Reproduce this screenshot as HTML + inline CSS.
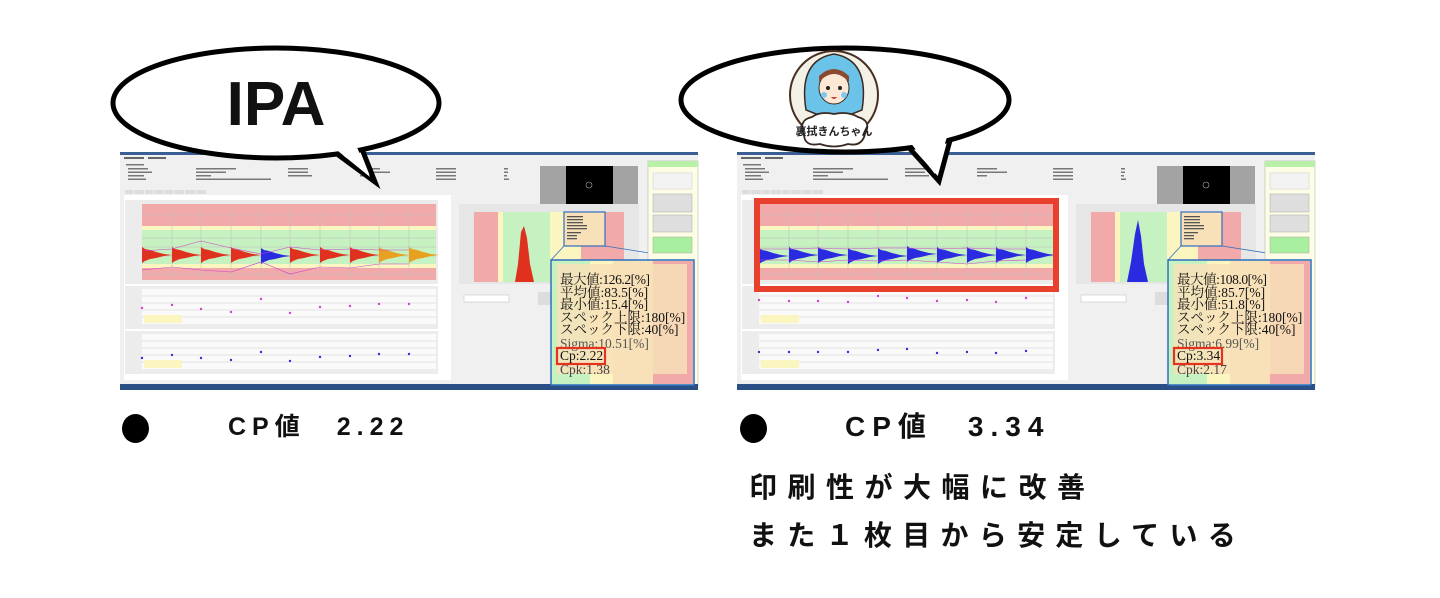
<!DOCTYPE html>
<html><head><meta charset="utf-8"><style>
html,body{margin:0;padding:0;background:#fff;}
body{width:1440px;height:598px;position:relative;overflow:hidden;font-family:"Liberation Sans","Noto Sans CJK JP",sans-serif;}
.t{position:absolute;font-weight:bold;color:#111;white-space:nowrap;}
.dot{position:absolute;width:27px;height:29px;border-radius:50%;background:#000;}
</style></head><body>
<svg width="1440" height="598" viewBox="0 0 1440 598" style="position:absolute;left:0;top:0">
<defs>
<symbol id="w" overflow="visible"><path d="M0,-8 L3,-6 L8,-5 L14,-3 L22,-1 L30,0 L22,1 L14,3 L8,4 L3,6 L0,8 Z"/></symbol>
<g id="base">
 <rect width="578" height="238" fill="#f0f0f0"/>
 <rect width="578" height="3" fill="#3b5f95"/>
 <rect x="4" y="5" width="20" height="2" fill="#666"/><rect x="28" y="5" width="18" height="2" fill="#666"/>
 <g fill="#777">
  <rect x="6" y="12" width="18" height="1.5"/>
  <rect x="8" y="16" width="20" height="1.5"/><rect x="8" y="19.5" width="24" height="1.5"/><rect x="8" y="23" width="16" height="1.5"/><rect x="8" y="26.5" width="18" height="1.5"/>
  <rect x="76" y="16" width="40" height="1.5"/><rect x="76" y="19.5" width="30" height="1.5"/><rect x="76" y="23" width="15" height="1.5"/><rect x="76" y="26.5" width="75" height="1.5"/>
  <rect x="168" y="16" width="20" height="1.5"/><rect x="168" y="19.5" width="20" height="1.5"/><rect x="168" y="23" width="24" height="1.5"/>
  <rect x="240" y="16" width="20" height="1.5"/><rect x="240" y="19.5" width="30" height="1.5"/><rect x="240" y="23" width="10" height="1.5"/>
  <rect x="316" y="16" width="20" height="1.5"/><rect x="316" y="19.5" width="20" height="1.5"/><rect x="316" y="23" width="20" height="1.5"/><rect x="316" y="26.5" width="20" height="1.5"/>
  <rect x="384" y="16" width="4" height="1.5"/><rect x="384" y="19.5" width="4" height="1.5"/><rect x="384" y="23" width="3" height="1.5"/><rect x="384" y="26.5" width="5" height="1.5"/>
 </g>
 <rect x="420" y="14" width="98" height="40" fill="#a3a3a3"/>
 <rect x="446" y="14" width="47" height="40" fill="#000"/>
 <circle cx="469" cy="33" r="3" fill="none" stroke="#aaa" stroke-width=".6"/>
 <g fill="#ddd"><rect x="5" y="38" width="8" height="4"/><rect x="14" y="38" width="10" height="4"/><rect x="25" y="38" width="8" height="4"/><rect x="34" y="38" width="10" height="4"/><rect x="45" y="38" width="8" height="4"/><rect x="54" y="38" width="10" height="4"/><rect x="65" y="38" width="10" height="4"/><rect x="76" y="38" width="10" height="4"/></g>
 <rect x="4" y="43" width="327" height="185" fill="#fff"/>
 <rect x="5" y="48" width="313" height="84" fill="#ececec"/>
 <rect x="22" y="52" width="294" height="22" fill="#f2a9a9"/>
 <rect x="22" y="74" width="294" height="4" fill="#fbf6c0"/>
 <rect x="22" y="78" width="294" height="34" fill="#c6f1c0"/>
 <rect x="22" y="112" width="294" height="4" fill="#fbf6c0"/>
 <rect x="22" y="116" width="294" height="12" fill="#f2a9a9"/>
 <g stroke="#bbb" stroke-width=".5"><line x1="22" y1="63" x2="316" y2="63"/><line x1="22" y1="86" x2="316" y2="86"/><line x1="22" y1="95" x2="316" y2="95"/><line x1="22" y1="104" x2="316" y2="104"/><line x1="22" y1="122" x2="316" y2="122"/>
 <line x1="52" y1="53" x2="52" y2="128"/><line x1="81" y1="53" x2="81" y2="128"/><line x1="111" y1="53" x2="111" y2="128"/><line x1="141" y1="53" x2="141" y2="128"/><line x1="170" y1="53" x2="170" y2="128"/><line x1="200" y1="53" x2="200" y2="128"/><line x1="230" y1="53" x2="230" y2="128"/><line x1="259" y1="53" x2="259" y2="128"/><line x1="289" y1="53" x2="289" y2="128"/></g>
 <rect x="5" y="134" width="313" height="43" fill="#ececec"/><rect x="22" y="137" width="294" height="35" fill="#fafafa"/>
 <rect x="5" y="179" width="313" height="43" fill="#ececec"/><rect x="22" y="182" width="294" height="35" fill="#fafafa"/>
 <g stroke="#ccc" stroke-width=".5"><line x1="22" y1="144" x2="316" y2="144"/><line x1="22" y1="151" x2="316" y2="151"/><line x1="22" y1="158" x2="316" y2="158"/><line x1="22" y1="165" x2="316" y2="165"/>
 <line x1="22" y1="189" x2="316" y2="189"/><line x1="22" y1="196" x2="316" y2="196"/><line x1="22" y1="203" x2="316" y2="203"/><line x1="22" y1="210" x2="316" y2="210"/></g>
 <rect x="24" y="163" width="38" height="8" fill="#fbf6c0"/><rect x="24" y="208" width="38" height="8" fill="#fbf6c0"/>
 <rect x="339" y="52" width="180" height="80" fill="#e6e6e6"/>
 <rect x="354" y="60" width="24" height="70" fill="#f2a9a9"/><rect x="378" y="60" width="5" height="70" fill="#fbf6c0"/><rect x="383" y="60" width="47" height="70" fill="#c6f1c0"/><rect x="430" y="60" width="31" height="70" fill="#fbf6c0"/><rect x="461" y="60" width="43" height="70" fill="#f2a9a9"/>
 <rect x="444" y="60" width="41" height="34" fill="#f8e0b8" stroke="#2f6fc0" stroke-width="1.2"/>
 <g fill="#555"><rect x="447" y="64" width="16" height="1.3"/><rect x="447" y="67" width="16" height="1.3"/><rect x="447" y="70" width="16" height="1.3"/><rect x="447" y="73" width="20" height="1.3"/><rect x="447" y="76" width="20" height="1.3"/><rect x="447" y="80" width="14" height="1.3"/><rect x="447" y="83" width="10" height="1.3"/><rect x="447" y="86" width="10" height="1.3"/></g>
 <line x1="444" y1="94" x2="431" y2="108" stroke="#2f6fc0" stroke-width=".8"/><line x1="485" y1="94" x2="574" y2="108" stroke="#2f6fc0" stroke-width=".8"/>
 <rect x="344" y="143" width="45" height="7" fill="#fff" stroke="#bbb" stroke-width=".5"/>
 <rect x="418" y="140" width="26" height="13" fill="#ddd"/>
 <rect x="528" y="9" width="50" height="226" fill="#fdfde6" stroke="#aaa" stroke-width=".5"/>
 <rect x="528" y="9" width="50" height="6" fill="#b8f0a8"/>
 <rect x="533" y="21" width="39" height="16" fill="#f3f3f3" stroke="#ccc" stroke-width=".5"/>
 <rect x="533" y="42" width="39" height="18" fill="#dedede" stroke="#aaa" stroke-width=".5"/>
 <rect x="533" y="63" width="39" height="17" fill="#dedede" stroke="#aaa" stroke-width=".5"/>
 <rect x="533" y="85" width="39" height="16" fill="#a8f0a0" stroke="#aaa" stroke-width=".5"/>
 <rect x="0" y="232" width="578" height="6" fill="#2a4f86"/>
 <rect x="431" y="108" width="143" height="125" fill="#c6f1c0" stroke="#2f6fc0" stroke-width="1.5"/>
 <rect x="470" y="109" width="23" height="123" fill="#fbf6c0"/>
 <rect x="493" y="109" width="40" height="123" fill="#f8e0b8"/>
 <rect x="533" y="109" width="40" height="123" fill="#f2a9a9"/>
 <rect x="437" y="112" width="130" height="110" fill="#f8e0b8" opacity=".85"/>
</g>
</defs>

<g transform="translate(120,152)">
 <use href="#base"/>
 <g fill="#e0301e"><use href="#w" x="22" y="103"/><use href="#w" x="52" y="103"/><use href="#w" x="81" y="103"/><use href="#w" x="111" y="103"/><use href="#w" x="170" y="103"/><use href="#w" x="200" y="103"/><use href="#w" x="230" y="103"/></g>
 <use href="#w" x="141" y="104" fill="#2a2ae0"/>
 <g fill="#e8a020"><use href="#w" x="259" y="103"/><use href="#w" x="289" y="103"/></g>
 <polyline points="22,99 52,97 81,89 111,96 141,102 170,95 200,98 230,97 259,98 289,98" fill="none" stroke="#d040d0" stroke-width=".6"/>
 <polyline points="22,118 52,115 81,118 111,120 141,110 170,122 200,115 230,116 259,112 289,112" fill="none" stroke="#d040d0" stroke-width=".6"/>
 <g fill="#d040d0"><circle cx="22" cy="156" r="1.2"/><circle cx="52" cy="153" r="1.2"/><circle cx="81" cy="157" r="1.2"/><circle cx="111" cy="160" r="1.2"/><circle cx="141" cy="147" r="1.2"/><circle cx="170" cy="161" r="1.2"/><circle cx="200" cy="155" r="1.2"/><circle cx="230" cy="154" r="1.2"/><circle cx="259" cy="152" r="1.2"/><circle cx="289" cy="152" r="1.2"/></g>
 <g fill="#3030e0"><circle cx="22" cy="206" r="1.2"/><circle cx="52" cy="203" r="1.2"/><circle cx="81" cy="206" r="1.2"/><circle cx="111" cy="208" r="1.2"/><circle cx="141" cy="200" r="1.2"/><circle cx="170" cy="209" r="1.2"/><circle cx="200" cy="205" r="1.2"/><circle cx="230" cy="204" r="1.2"/><circle cx="259" cy="202" r="1.2"/><circle cx="289" cy="202" r="1.2"/></g>
 <path d="M395,130 L398,112 L401,80 L404,74 L407,86 L410,112 L414,130 Z" fill="#e0301e"/>
 <g font-family="'Liberation Serif','Noto Serif CJK JP',serif" font-size="13.5" fill="#111">
  <text x="440" y="132" textLength="90">最大値:126.2[%]</text>
  <text x="440" y="145">平均値:83.5[%]</text>
  <text x="440" y="157">最小値:15.4[%]</text>
  <text x="440" y="170">スペック上限:180[%]</text>
  <text x="440" y="182">スペック下限:40[%]</text>
  <text x="440" y="196" fill="#555">Sigma:10.51[%]</text>
  <text x="440" y="208">Cp:2.22</text>
  <text x="440" y="222" fill="#444">Cpk:1.38</text>
 </g>
 <rect x="437" y="196" width="48" height="16" fill="none" stroke="#e53320" stroke-width="2.2"/>
</g>

<g transform="translate(737,152)">
 <use href="#base"/>
 <g fill="#2a2ae0"><use href="#w" x="22" y="104"/><use href="#w" x="52" y="103"/><use href="#w" x="81" y="103"/><use href="#w" x="111" y="104"/><use href="#w" x="141" y="104"/><use href="#w" x="170" y="102"/><use href="#w" x="200" y="103"/><use href="#w" x="230" y="103"/><use href="#w" x="259" y="103"/><use href="#w" x="289" y="103"/></g>
 <polyline points="22,97 52,97 81,96 111,97 141,96 170,96 200,97 230,96 259,97 289,97" fill="none" stroke="#d040d0" stroke-width=".6"/>
 <polyline points="22,108 52,108 81,110 111,108 141,109 170,108 200,110 230,112 259,109 289,108" fill="none" stroke="#d040d0" stroke-width=".6"/>
 <g fill="#d040d0"><circle cx="22" cy="148" r="1.2"/><circle cx="52" cy="149" r="1.2"/><circle cx="81" cy="149" r="1.2"/><circle cx="111" cy="150" r="1.2"/><circle cx="141" cy="144" r="1.2"/><circle cx="170" cy="146" r="1.2"/><circle cx="200" cy="149" r="1.2"/><circle cx="230" cy="148" r="1.2"/><circle cx="259" cy="150" r="1.2"/><circle cx="289" cy="146" r="1.2"/></g>
 <g fill="#3030e0"><circle cx="22" cy="200" r="1.2"/><circle cx="52" cy="200" r="1.2"/><circle cx="81" cy="200" r="1.2"/><circle cx="111" cy="200" r="1.2"/><circle cx="141" cy="198" r="1.2"/><circle cx="170" cy="197" r="1.2"/><circle cx="200" cy="201" r="1.2"/><circle cx="230" cy="200" r="1.2"/><circle cx="259" cy="201" r="1.2"/><circle cx="289" cy="199" r="1.2"/></g>
 <path d="M390,130 L394,110 L398,82 L401,68 L404,84 L407,112 L411,130 Z" fill="#2a2ae0"/>
 <g font-family="'Liberation Serif','Noto Serif CJK JP',serif" font-size="13.5" fill="#111">
  <text x="440" y="132" textLength="90">最大値:108.0[%]</text>
  <text x="440" y="145">平均値:85.7[%]</text>
  <text x="440" y="157">最小値:51.8[%]</text>
  <text x="440" y="170">スペック上限:180[%]</text>
  <text x="440" y="182">スペック下限:40[%]</text>
  <text x="440" y="196" fill="#555">Sigma:6.99[%]</text>
  <text x="440" y="208">Cp:3.34</text>
  <text x="440" y="222" fill="#444">Cpk:2.17</text>
 </g>
 <rect x="437" y="196" width="48" height="16" fill="none" stroke="#e53320" stroke-width="2.2"/>
 <rect x="20" y="49" width="299" height="88" fill="none" stroke="#e8402c" stroke-width="6"/>
</g>

<polygon points="318,140 375,182 356,134" fill="#fff" stroke="#000" stroke-width="5" stroke-linejoin="miter"/>
<ellipse cx="276" cy="103" rx="163" ry="55" fill="#fff" stroke="#000" stroke-width="5"/>
<polygon points="322,138 370,177 352,136" fill="#fff"/>
<text x="276" y="125" text-anchor="middle" font-family="'Liberation Sans',sans-serif" font-weight="bold" font-size="62" fill="#111">IPA</text>

<polygon points="902,140 939,181 952,133" fill="#fff" stroke="#000" stroke-width="5"/>
<ellipse cx="845" cy="100" rx="164" ry="52" fill="#fff" stroke="#000" stroke-width="5"/>
<polygon points="906,137 935,174 948,134" fill="#fff"/>
<g>
 <circle cx="834" cy="95" r="44" fill="#f4f1e6" stroke="#4a2e20" stroke-width="2"/>
 <path d="M806,110 Q798,60 834,54 Q870,60 862,110 L852,114 L816,114 Z" fill="#6cc3ea" stroke="#3a2a20" stroke-width="1.5"/>
 <ellipse cx="834" cy="88" rx="15" ry="16" fill="#fde8d6" stroke="#3a2a20" stroke-width="1"/>
 <path d="M819,82 Q834,66 849,82 L849,76 Q834,62 819,76 Z" fill="#8a4a30"/>
 <circle cx="828" cy="88" r="2" fill="#222"/><circle cx="840" cy="88" r="2" fill="#222"/>
 <circle cx="824" cy="95" r="3" fill="#7fc8f0"/><circle cx="844" cy="95" r="3" fill="#7fc8f0"/>
 <path d="M831,97 Q834,101 837,97" fill="#c04040"/>
 <path d="M804,134 Q798,120 812,117 Q820,111 834,114 Q848,111 858,117 Q872,121 865,134 Q862,147 848,144 Q834,149 820,144 Q804,147 804,134 Z" fill="#fff" stroke="#3a2a20" stroke-width="1.8"/>
 <text x="834" y="135" text-anchor="middle" font-family="'Noto Sans CJK JP',sans-serif" font-weight="bold" font-size="11" fill="#222">裏拭きんちゃん</text>
</g>
</svg>

<div class="dot" style="left:122px;top:414px;"></div>
<div class="t" style="left:228px;top:411px;font-size:25px;line-height:32px;letter-spacing:6px;">CP値　2.22</div>
<div class="dot" style="left:740px;top:414px;"></div>
<div class="t" style="left:845px;top:409px;font-size:28px;line-height:36px;letter-spacing:7px;">CP値　3.34</div>
<div class="t" style="left:749px;top:470px;font-size:28px;line-height:36px;letter-spacing:10.5px;">印刷性が大幅に改善</div>
<div class="t" style="left:749px;top:518px;font-size:28px;line-height:36px;letter-spacing:10.3px;">また１枚目から安定している</div>
</body></html>
